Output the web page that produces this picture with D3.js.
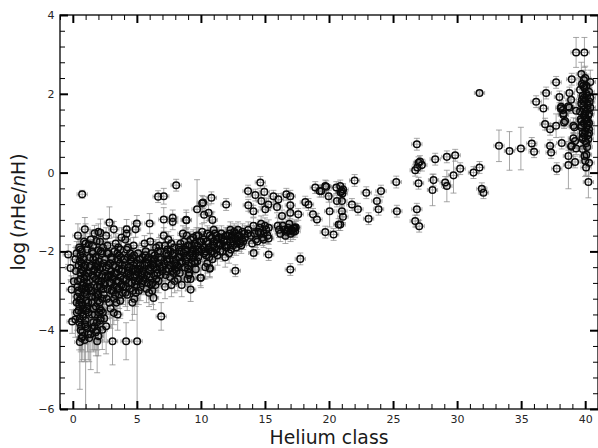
<!DOCTYPE html>
<html>
<head>
<meta charset="utf-8">
<script src="https://cdn.jsdelivr.net/npm/d3@7"></script>
<style>
  html, body { margin: 0; padding: 0; background: #fff; }
  svg { display: block; }
  text { font-family: "DejaVu Sans", sans-serif; }
</style>
</head>
<body>
<svg id="chart" width="598" height="448"></svg>
<script>
// Helium class of each star
const heClass = [
  0.73,-0.36,-0.18,0.08,-0.1,0.2,-0.05,0.68,0.55,1.0,
  1.9,2.3,3.1,4.16,5.02,3.2,6.9,6.3,0.94,1.25,
  1.7,2.0,1.85,2.86,3.2,4.2,5.0,6.0,6.66,7.1,
  8.07,7.1,7.8,7.8,8.85,9.7,10.1,10.6,10.25,10.9,
  10.7,10.0,9.2,7.2,9.2,8.5,4.9,4.2,3.8,2.16,
  2.0,0.2,1.4,2.6,3.5,1.6,0.3,1.8,2.45,2.0,
  0.4,0.5,0.6,0.7,0.8,0.9,1.0,1.1,1.2,0.45,
  0.55,0.65,0.75,0.85,0.95,1.05,1.15,0.5,0.7,0.9,
  1.1,0.6,0.8,1.0,1.2,0.4,0.6,0.8,1.0,0.7,
  1.4,1.5,1.6,1.7,1.8,1.9,2.0,2.1,2.2,2.3,
  2.4,1.5,1.7,1.9,2.1,2.3,1.6,1.8,2.0,2.2,
  1.45,1.75,1.95,2.15,2.35,
  2.6,2.7,2.8,2.9,3.0,3.1,3.2,3.3,3.4,3.5,
  3.6,3.7,3.8,3.9,2.65,2.95,3.25,3.55,3.85,3.0,
  3.4,3.7,2.8,3.15,3.6,
  4.1,4.2,4.3,4.4,4.5,4.6,4.7,4.8,4.9,5.0,
  5.1,5.2,5.3,5.4,4.25,4.55,4.85,5.15,4.35,4.75,
  5.05,4.15,4.65,5.25,
  5.6,5.7,5.8,5.9,6.0,6.1,6.2,6.3,6.4,6.5,
  6.6,6.7,6.8,6.9,5.75,6.05,6.35,6.65,5.65,6.25,
  6.85,5.95,6.55,
  7.1,7.2,7.3,7.4,7.5,7.6,7.7,7.8,7.9,8.0,
  8.1,8.2,8.3,8.4,7.25,7.55,7.85,8.15,7.45,7.95,
  8.35,
  8.6,8.7,8.8,8.9,9.0,9.1,9.2,9.3,9.4,9.5,
  9.6,9.7,9.8,9.9,8.75,9.05,9.35,9.65,8.95,9.55,
  10.1,10.2,10.3,10.4,10.5,10.6,10.7,10.8,10.9,11.0,
  11.1,11.2,11.3,11.4,10.35,10.65,10.95,11.25,
  11.6,11.8,12.0,12.2,12.4,12.6,12.8,13.0,13.2,13.4,
  11.7,12.1,12.5,12.9,13.3,11.9,12.3,12.7,
  13.7,13.9,14.1,14.3,14.5,14.7,14.9,15.1,14.0,14.4,
  14.8,15.3,16.1,16.4,16.7,16.9,17.1,17.3,16.6,17.0,
  14.64,13.68,10.82,11.97,10.17,8.87,14.25,14.95,14.72,15.66,
  16.05,16.67,16.98,15.26,13.7,14.1,15.03,15.94,16.33,16.98,
  16.98,17.6,18.15,18.4,18.75,19.06,18.93,19.27,19.71,19.97,
  20.57,20.05,19.71,20.36,20.75,17.24,17.4,17.1,17.35,16.77,
  15.29,14.64,14.12,15.29,17.76,16.98,12.69,10.69,9.96,20.88,
  21.01,21.1,20.9,21.05,19.79,19.4,20.62,21.01,21.79,22.26,
  21.01,21.09,20.88,22.0,22.91,24.06,23.74,23.87,23.09,25.25,
  25.3,26.86,26.73,27.04,26.99,26.86,26.99,27.25,26.73,26.89,
  27.1,28.29,29.2,29.85,29.72,30.24,31.28,31.75,31.93,32.06,
  28.16,28.08,29.07,29.2,31.75,33.27,34.09,34.98,35.83,36.01,
  39.29,39.94,37.73,36.95,36.17,36.74,37.99,38.95,38.12,38.3,
  38.69,39.29,36.87,37.26,37.73,38.35,39.08,37.26,37.34,38.17,
  38.95,39.21,39.29,38.69,39.21,38.69,37.78,40.25,39.94,40.07,
  38.1,38.25,38.77,38.9,38.77,38.43,38.3,39.16,39.08,38.9,
  39.7,39.9,40.1,40.3,39.8,40.0,40.2,40.4,39.6,39.9,
  40.1,40.3,39.7,40.0,40.2,39.8,40.1,40.4,39.6,39.9,
  40.2,40.0,39.7,40.3,39.8,40.1,39.9,40.2,40.0,39.7,
  40.3,39.8,40.1,40.0,39.9,40.2,
  0.3,0.45,0.6,0.75,0.9,1.05,1.2,1.35,0.35,0.5,0.65,0.8,0.95,1.1,1.25,
  0.4,0.55,0.7,0.85,1.0,1.15,1.3,0.62,0.88,
  1.42,1.55,1.68,1.82,1.96,2.08,2.22,2.38,2.52,1.48,1.62,1.78,1.92,2.05,2.18,
  2.32,2.48,1.58,1.88,2.12,2.42,2.28,
  2.62,2.75,2.88,3.02,3.15,3.28,3.42,3.55,3.68,3.82,3.95,2.72,2.98,3.22,3.48,
  3.75,3.92,2.85,3.35,3.62,
  4.05,4.22,4.38,4.52,4.68,4.82,4.98,5.12,5.28,5.45,4.12,4.45,4.78,5.08,5.38,
  4.3,4.92,5.5,
  5.62,5.78,5.92,6.08,6.22,6.38,6.52,6.68,6.82,6.98,5.85,6.15,6.45,6.75,6.02,6.6,
  7.15,7.3,7.45,7.6,7.75,7.9,8.05,8.2,8.35,8.5,7.38,7.68,7.98,8.28,8.45,
  8.65,8.82,8.98,9.12,9.28,9.42,9.58,9.72,9.88,8.9,9.2,9.5,9.8,9.0,
  10.05,10.25,10.45,10.62,10.85,11.05,11.22,11.45,11.62,11.85,10.5,11.0,11.5,11.95,
  12.05,12.25,12.45,12.65,12.85,13.05,13.25,13.45,13.65,12.35,12.75,13.15,
  14.2,14.6,15.0,15.2,16.2,16.5,16.8,17.2,14.9,16.0,
  39.75,39.95,40.15,40.35,39.85,40.05,40.25,39.65,39.9,40.1,
  40.3,39.8,40.0,40.2,39.7,40.4,39.95,40.15,39.85,40.05,
  40.25,39.75,40.0,40.3,
  0.25,0.38,0.52,0.66,0.78,0.92,1.08,1.22,1.36,1.52,
  1.66,1.8,1.94,2.1,2.26,0.32,0.58,0.82,1.12,1.44,
  1.72,2.02,2.34,0.48,0.72,0.98,1.28,1.58,1.88,2.18,
  2.55,2.78,3.05,3.32,3.58,3.88,4.18,4.48,4.72,4.95,
  5.22,5.48,5.75,2.68,2.92,3.18,3.45,3.72,4.02,4.32,
  4.62,4.88,5.18,5.42,5.68,5.9,
  6.12,6.42,6.72,7.02,7.32,7.62,7.92,8.22,8.52,8.82,
  9.12,9.42,9.72,10.02,10.32,10.62,10.92,11.22,11.52,11.82,
  12.12,12.42,12.72,13.02
];

// log(nHe/nH) of each star
const logHeH = [
  -0.55,-2.08,-2.42,-2.76,-2.97,-3.73,-3.78,-4.2,-4.3,-3.9,
  -4.28,-3.99,-4.28,-4.28,-4.28,-3.56,-3.65,-3.18,-1.44,-1.82,
  -1.54,-1.5,-1.74,-1.27,-1.44,-1.44,-1.29,-1.29,-0.61,-0.6,
  -0.32,-1.19,-1.15,-1.25,-1.2,-0.93,-0.78,-1.02,-1.07,-1.2,
  -2.42,-2.67,-2.97,-2.9,-2.7,-2.85,-1.44,-1.55,-1.65,-1.53,
  -1.97,-2.2,-4.1,-3.9,-3.6,-3.8,-3.3,-4.05,-3.7,-4.15,
  -1.6,-1.9,-2.1,-2.3,-2.5,-2.7,-2.9,-3.1,-3.3,-3.5,
  -3.7,-3.9,-4.05,-2.2,-2.6,-3.0,-3.4,-3.8,-2.0,-2.4,
  -2.8,-3.2,-3.6,-1.8,-4.1,-3.0,-2.7,-3.45,-3.75,-2.95,
  -1.7,-2.0,-2.2,-2.45,-2.7,-2.9,-3.1,-3.3,-3.5,-2.6,
  -2.3,-3.6,-3.9,-4.0,-2.85,-3.2,-2.5,-3.4,-2.75,-2.0,
  -3.0,-3.15,-2.35,-3.75,-1.9,
  -1.6,-1.85,-2.05,-2.3,-2.5,-2.7,-2.9,-3.1,-3.3,-2.2,
  -2.45,-2.65,-2.85,-3.05,-3.2,-3.45,-2.0,-1.9,-2.35,-2.8,
  -2.55,-3.25,-2.65,-3.0,-2.1,
  -1.7,-1.95,-2.15,-2.4,-2.6,-2.8,-3.0,-3.2,-2.5,-2.3,
  -2.05,-2.7,-2.9,-2.6,-3.1,-2.25,-2.75,-3.0,-2.55,-1.85,
  -2.45,-2.9,-3.3,-2.2,
  -1.8,-2.0,-2.2,-2.45,-2.65,-2.85,-3.0,-2.3,-2.1,-1.9,
  -2.55,-2.75,-2.4,-2.2,-2.95,-1.75,-2.6,-2.0,-2.7,-2.35,
  -2.6,-3.05,-2.45,
  -1.6,-1.85,-2.05,-2.25,-2.45,-2.65,-2.85,-2.1,-1.9,-2.3,
  -2.5,-2.7,-2.0,-1.8,-2.6,-2.2,-2.55,-2.35,-1.7,-2.75,
  -2.15,
  -1.55,-1.75,-1.95,-2.15,-2.35,-2.55,-2.05,-1.85,-1.65,-2.25,
  -2.45,-1.95,-2.15,-1.75,-2.4,-2.6,-2.0,-1.6,-2.7,-2.3,
  -1.5,-1.7,-1.9,-2.1,-2.3,-1.8,-1.6,-2.0,-2.2,-1.75,
  -1.55,-1.95,-2.1,-1.65,-2.4,-2.15,-1.85,-1.8,
  -1.55,-1.75,-1.9,-2.05,-1.65,-1.5,-1.8,-1.6,-1.7,-1.55,
  -2.0,-1.6,-1.85,-1.45,-1.75,-2.15,-1.45,-1.7,
  -1.45,-1.6,-1.35,-1.7,-1.5,-1.3,-1.55,-1.45,-1.8,-1.75,
  -1.65,-1.4,-1.45,-1.35,-1.5,-1.3,-1.45,-1.4,-1.6,-1.55,
  -0.25,-0.47,-0.64,-0.81,-0.76,-1.21,-0.57,-0.49,-0.72,-0.6,
  -0.68,-0.55,-0.6,-0.81,-0.83,-0.98,-0.93,-0.87,-1.1,-1.02,
  -0.83,-1.06,-0.75,-0.81,-1.06,-1.19,-0.38,-0.47,-0.34,-0.6,
  -0.38,-0.98,-1.51,-1.57,-1.32,-1.42,-1.39,-1.47,-1.49,-1.47,
  -1.67,-1.53,-2.04,-2.08,-2.19,-2.46,-2.49,-2.44,-2.67,-0.34,
  -0.47,-0.43,-0.5,-0.53,-0.36,-0.47,-0.72,-0.72,-0.81,-0.93,
  -0.98,-1.12,-1.32,-0.2,-0.51,-0.47,-0.72,-0.93,-1.17,-0.24,
  -0.98,-0.93,-1.23,-1.36,-0.27,0.72,0.25,0.19,0.06,0.13,
  0.28,0.34,0.4,0.44,-0.07,0.1,0.0,0.13,-0.41,-0.51,
  -0.19,-0.44,-0.25,-0.34,2.02,0.68,0.55,0.61,0.74,0.53,
  3.05,3.05,2.29,2.02,1.8,1.63,1.92,2.37,1.67,1.5,
  1.68,1.57,1.23,1.1,1.19,1.27,1.19,0.68,0.51,0.75,
  0.68,0.8,0.61,0.42,0.27,0.19,0.1,-0.24,0.42,0.13,
  1.63,1.59,2.02,1.85,1.65,1.31,1.46,1.15,0.87,0.66,
  2.5,2.35,2.2,2.05,1.95,1.85,1.75,1.65,1.55,1.45,
  1.35,1.25,1.15,1.05,0.95,0.85,0.75,2.3,2.1,1.9,
  1.7,1.5,1.3,1.1,0.9,2.0,1.8,1.6,1.4,1.2,
  1.0,0.6,0.45,2.4,1.6,1.2,
  -2.05,-2.35,-2.55,-2.85,-3.05,-3.25,-3.55,-2.15,-3.15,-3.35,-2.45,-3.65,-3.85,-2.65,-2.95,
  -2.75,-2.25,-3.3,-2.8,-3.5,-3.95,-2.4,-4.0,-1.75,
  -2.35,-2.6,-2.85,-3.05,-3.25,-2.45,-2.75,-2.95,-2.2,-3.3,-3.45,-2.15,-2.55,-3.55,-3.7,
  -2.4,-2.85,-1.85,-3.8,-1.75,-3.1,-2.05,
  -2.4,-2.6,-2.8,-3.0,-2.35,-2.55,-2.75,-2.95,-2.3,-2.5,-2.7,-2.95,-2.15,-3.2,-2.05,
  -2.15,-2.9,-3.3,-1.8,-3.1,
  -2.35,-2.6,-2.8,-2.2,-2.45,-2.65,-2.85,-2.55,-2.35,-2.15,-3.05,-2.95,-2.1,-2.75,-2.8,
  -1.9,-3.05,-2.5,
  -2.35,-2.6,-2.15,-2.4,-2.8,-2.2,-2.7,-2.3,-2.0,-2.5,-2.8,-2.05,-2.85,-1.85,-2.5,-2.55,
  -2.3,-2.5,-2.1,-2.35,-2.5,-2.05,-2.2,-2.4,-2.55,-2.0,-1.95,-1.8,-2.45,-1.9,-2.3,
  -2.05,-2.25,-1.85,-2.1,-2.3,-1.95,-2.05,-2.25,-2.0,-1.6,-1.7,-1.8,-1.6,-2.45,
  -1.95,-2.05,-1.75,-1.95,-1.65,-2.05,-1.7,-1.85,-1.65,-1.85,-1.55,-1.45,-2.0,-1.6,
  -1.75,-1.55,-1.75,-1.65,-1.6,-1.75,-1.5,-1.65,-1.55,-1.95,-1.9,-1.85,
  -1.55,-1.4,-1.35,-1.6,-1.55,-1.45,-1.4,-1.5,-1.7,-1.35,
  2.25,2.15,1.95,1.8,1.7,1.55,1.45,1.35,1.25,1.15,
  1.5,1.0,0.8,1.3,1.75,1.9,0.95,0.65,2.2,1.35,
  0.85,1.85,0.3,0.25,
  -2.5,-2.9,-3.25,-3.55,-4.15,-4.25,-3.45,-2.55,-2.9,-3.95,
  -2.65,-2.3,-3.1,-3.45,-2.65,-3.55,-1.95,-2.15,-1.95,-3.15,
  -3.6,-2.25,-3.55,-3.05,-3.35,-2.35,-4.2,-2.05,-2.4,-2.9,
  -2.65,-2.35,-2.2,-2.4,-2.75,-2.45,-2.7,-2.05,-2.35,-2.6,
  -2.45,-2.75,-2.3,-2.05,-2.6,-2.65,-2.9,-1.95,-2.2,-2.5,
  -2.15,-2.45,-2.2,-2.55,-2.1,-2.3,
  -2.2,-2.4,-2.15,-2.4,-2.2,-2.0,-2.35,-2.15,-2.25,-2.0,
  -1.85,-2.15,-1.85,-1.75,-2.0,-1.9,-2.0,-1.6,-1.8,-1.7,
  -1.85,-1.6,-1.55,-1.8
];

// 1-sigma uncertainty of log(nHe/nH)
const logErr = [
  0.1,0.25,0.3,0.3,0.35,0.45,0.3,0.6,1.2,2.6,
  0.8,0.5,0.6,0.47,2.3,0.3,0.35,0.3,0.3,0.2,
  0.2,0.2,0.2,0.4,0.2,0.25,0.2,0.25,0.15,0.2,
  0.15,0.3,0.2,0.2,0.25,0.75,0.2,0.2,0.2,0.2,
  0.25,0.25,0.3,0.3,0.25,0.3,0.2,0.2,0.25,0.35,
  0.3,0.3,0.9,0.7,0.4,0.75,0.4,0.6,0.6,0.5,
  0.3,0.25,0.35,0.2,0.4,0.3,0.5,0.35,0.45,0.4,
  0.5,0.6,0.45,0.25,0.3,0.55,0.35,0.7,0.2,0.3,
  0.4,0.35,0.5,0.25,0.65,0.3,0.25,0.45,0.6,0.35,
  0.25,0.3,0.2,0.35,0.3,0.4,0.35,0.45,0.5,0.3,
  0.25,0.55,0.6,0.5,0.3,0.4,0.25,0.45,0.3,0.2,
  0.35,0.4,0.25,0.5,0.2,
  0.2,0.25,0.3,0.25,0.3,0.35,0.3,0.4,0.45,0.2,
  0.25,0.3,0.35,0.3,0.4,0.5,0.2,0.25,0.3,0.35,
  0.3,0.45,0.3,0.35,0.2,
  0.2,0.25,0.2,0.3,0.25,0.3,0.35,0.4,0.25,0.2,
  0.2,0.3,0.35,0.25,0.4,0.2,0.3,0.35,0.25,0.2,
  0.25,0.3,0.45,0.2,
  0.2,0.2,0.25,0.25,0.3,0.3,0.35,0.2,0.2,0.2,
  0.25,0.3,0.25,0.2,0.35,0.2,0.25,0.2,0.3,0.25,
  0.25,0.35,0.25,
  0.2,0.2,0.25,0.2,0.25,0.3,0.3,0.2,0.2,0.25,
  0.25,0.3,0.2,0.2,0.3,0.2,0.25,0.25,0.2,0.3,
  0.2,
  0.2,0.2,0.2,0.25,0.25,0.3,0.2,0.2,0.2,0.25,
  0.25,0.2,0.2,0.2,0.25,0.3,0.2,0.2,0.3,0.25,
  0.2,0.2,0.2,0.25,0.25,0.2,0.2,0.2,0.25,0.2,
  0.2,0.2,0.25,0.2,0.3,0.25,0.2,0.2,
  0.2,0.2,0.2,0.25,0.2,0.2,0.2,0.2,0.2,0.2,
  0.25,0.2,0.2,0.2,0.2,0.25,0.2,0.2,
  0.2,0.2,0.2,0.2,0.2,0.2,0.2,0.2,0.2,0.2,
  0.2,0.2,0.2,0.2,0.2,0.2,0.2,0.2,0.2,0.2,
  0.15,0.15,0.15,0.15,0.15,0.2,0.15,0.15,0.15,0.15,
  0.15,0.15,0.15,0.15,0.15,0.15,0.15,0.15,0.15,0.15,
  0.15,0.15,0.15,0.15,0.15,0.15,0.15,0.15,0.15,0.15,
  0.15,0.4,0.15,0.15,0.15,0.15,0.15,0.15,0.15,0.15,
  0.15,0.15,0.15,0.15,0.15,0.15,0.15,0.2,0.2,0.15,
  0.15,0.15,0.15,0.15,0.15,0.15,0.15,0.15,0.15,0.15,
  0.15,0.15,0.15,0.15,0.15,0.15,0.15,0.15,0.15,0.15,
  0.15,0.15,0.15,0.15,0.15,0.15,0.15,0.15,0.15,0.15,
  0.15,0.15,0.15,0.15,0.45,0.15,0.15,0.15,0.15,0.15,
  0.15,0.4,0.15,0.4,0.05,0.4,0.49,0.54,0.15,0.15,
  0.38,0.38,0.15,0.15,0.15,0.4,0.15,0.15,0.15,0.2,
  0.15,0.2,0.15,0.15,0.3,0.15,0.2,0.15,0.15,0.15,
  0.15,0.15,0.15,0.15,0.15,0.6,0.15,0.4,0.2,0.2,
  0.15,0.15,0.15,0.15,0.15,0.15,0.15,0.15,0.15,0.15,
  0.3,0.25,0.3,0.35,0.25,0.3,0.3,0.35,0.25,0.3,
  0.3,0.35,0.25,0.3,0.35,0.25,0.3,0.3,0.3,0.25,
  0.3,0.35,0.25,0.3,0.3,0.25,0.3,0.3,0.35,0.25,
  0.3,0.35,0.4,0.3,0.25,0.3,
  0.3,0.35,0.3,0.4,0.35,0.45,0.5,0.3,0.4,0.45,0.3,0.55,0.5,0.35,0.4,
  0.35,0.3,0.45,0.35,0.5,0.6,0.3,0.55,0.25,
  0.3,0.35,0.35,0.4,0.45,0.3,0.35,0.4,0.3,0.45,0.5,0.25,0.35,0.5,0.55,
  0.3,0.35,0.25,0.55,0.25,0.4,0.3,
  0.25,0.3,0.3,0.35,0.25,0.3,0.3,0.35,0.25,0.25,0.3,0.35,0.25,0.4,0.25,
  0.25,0.3,0.4,0.25,0.35,
  0.25,0.3,0.3,0.25,0.25,0.3,0.3,0.3,0.25,0.25,0.35,0.3,0.2,0.3,0.3,
  0.2,0.35,0.25,
  0.25,0.3,0.2,0.25,0.3,0.2,0.3,0.25,0.2,0.25,0.3,0.2,0.3,0.2,0.25,0.25,
  0.25,0.25,0.2,0.25,0.25,0.2,0.2,0.25,0.25,0.2,0.2,0.2,0.25,0.2,0.25,
  0.2,0.2,0.2,0.2,0.25,0.2,0.2,0.25,0.2,0.2,0.2,0.2,0.2,0.25,
  0.2,0.2,0.2,0.2,0.2,0.2,0.2,0.2,0.2,0.2,0.2,0.2,0.2,0.2,
  0.2,0.2,0.2,0.2,0.2,0.2,0.2,0.2,0.2,0.2,0.2,0.2,
  0.2,0.2,0.2,0.2,0.2,0.2,0.2,0.2,0.2,0.2,
  0.3,0.3,0.3,0.35,0.3,0.3,0.35,0.25,0.3,0.3,
  0.35,0.3,0.35,0.3,0.25,0.35,0.3,0.35,0.3,0.3,
  0.35,0.3,0.4,0.35,
  0.3,0.35,0.4,0.45,0.6,0.55,0.45,0.3,0.35,0.55,
  0.3,0.3,0.4,0.45,0.3,0.45,0.25,0.3,0.25,0.4,
  0.45,0.3,0.45,0.4,0.4,0.3,0.6,0.25,0.3,0.35,
  0.3,0.25,0.25,0.3,0.3,0.3,0.3,0.25,0.25,0.3,
  0.25,0.3,0.25,0.25,0.3,0.3,0.35,0.25,0.25,0.3,
  0.25,0.25,0.25,0.3,0.25,0.25,
  0.25,0.25,0.25,0.25,0.2,0.2,0.25,0.2,0.25,0.2,
  0.2,0.2,0.2,0.2,0.2,0.2,0.2,0.2,0.2,0.2,
  0.2,0.2,0.2,0.2
];

// uncertainty of the helium class (same for all stars)
const classErr = 0.4;

// axis settings
const classDomain = [-1, 41];
const logDomain = [-6, 4];
const classTicks = [0, 5, 10, 15, 20, 25, 30, 35, 40];
const logTicks = [-6, -4, -2, 0, 2, 4];
const classMinorStep = 1;
const logMinorStep = 0.4;

const xLabel = "Helium class";

const svg = d3.select("#chart");
const plotL = 60, plotR = 598, plotT = 15, plotB = 409;

const x = d3.scaleLinear().domain(classDomain).range([plotL, plotR]);
const y = d3.scaleLinear().domain(logDomain).range([plotB, plotT]);

const stars = heClass.map((c, i) => ({
  c, v: logHeH[i], e: logErr[i] !== undefined ? logErr[i] : 0.2
}));

// plotting area clip
svg.append("defs").append("clipPath").attr("id", "plotclip")
  .append("rect").attr("x", plotL).attr("y", plotT)
  .attr("width", plotR - plotL).attr("height", plotB - plotT);

const plot = svg.append("g").attr("clip-path", "url(#plotclip)");

// error bars
const eb = plot.append("g")
  .attr("stroke", "#8a8a8a")
  .attr("stroke-opacity", 0.75)
  .attr("stroke-width", 1)
  .attr("fill", "none");

const capY = 3, capX = 2;
eb.selectAll("path.ey").data(stars).join("path").attr("class", "ey")
  .attr("d", d => {
    const cx = x(d.c), y0 = y(d.v - d.e), y1 = y(d.v + d.e);
    return `M${cx},${y0}V${y1}M${cx - capY},${y0}H${cx + capY}M${cx - capY},${y1}H${cx + capY}`;
  });
eb.selectAll("path.ex").data(stars).join("path").attr("class", "ex")
  .attr("d", d => {
    const cy = y(d.v), x0 = x(d.c - classErr), x1 = x(d.c + classErr);
    return `M${x0},${cy}H${x1}M${x0},${cy - capX}V${cy + capX}M${x1},${cy - capX}V${cy + capX}`;
  });

// markers
plot.append("g")
  .attr("fill", "none")
  .attr("stroke", "#0a0a0a")
  .attr("stroke-width", 1.5)
  .selectAll("circle").data(stars).join("circle")
  .attr("cx", d => x(d.c))
  .attr("cy", d => y(d.v))
  .attr("r", 3.3);

// helper for minor tick values
function minorValues(domain, step, majors) {
  const out = [];
  const n0 = Math.ceil(domain[0] / step - 1e-9), n1 = Math.floor(domain[1] / step + 1e-9);
  for (let k = n0; k <= n1; k++) {
    const v = +(k * step).toFixed(6);
    if (!majors.some(m => Math.abs(m - v) < 1e-6)) out.push(v);
  }
  return out;
}
const classMinor = minorValues(classDomain, classMinorStep, classTicks);
const logMinor = minorValues(logDomain, logMinorStep, logTicks);

function styleAxis(g, width) {
  g.select(".domain").remove();
  g.selectAll(".tick line").attr("stroke", "#000").attr("stroke-width", width);
  g.selectAll(".tick text")
    .attr("fill", "#262626")
    .style("font-family", "'DejaVu Sans', sans-serif")
    .style("font-size", "11px");
}

// bottom
svg.append("g").attr("transform", `translate(0,${plotB})`)
  .call(d3.axisBottom(x).tickValues(classTicks).tickSize(-8).tickPadding(6.5))
  .call(g => styleAxis(g, 2));
svg.append("g").attr("transform", `translate(0,${plotB})`)
  .call(d3.axisBottom(x).tickValues(classMinor).tickSize(-5).tickFormat(""))
  .call(g => styleAxis(g, 1));
// top
svg.append("g").attr("transform", `translate(0,${plotT})`)
  .call(d3.axisTop(x).tickValues(classTicks).tickSize(-8).tickFormat(""))
  .call(g => styleAxis(g, 2));
svg.append("g").attr("transform", `translate(0,${plotT})`)
  .call(d3.axisTop(x).tickValues(classMinor).tickSize(-5).tickFormat(""))
  .call(g => styleAxis(g, 1));
// left
svg.append("g").attr("transform", `translate(${plotL},0)`)
  .call(d3.axisLeft(y).tickValues(logTicks).tickSize(-8).tickPadding(5.5))
  .call(g => styleAxis(g, 2));
svg.append("g").attr("transform", `translate(${plotL},0)`)
  .call(d3.axisLeft(y).tickValues(logMinor).tickSize(-5).tickFormat(""))
  .call(g => styleAxis(g, 1));
// right
svg.append("g").attr("transform", `translate(${plotR},0)`)
  .call(d3.axisRight(y).tickValues(logTicks).tickSize(-8).tickFormat(""))
  .call(g => styleAxis(g, 2));
svg.append("g").attr("transform", `translate(${plotR},0)`)
  .call(d3.axisRight(y).tickValues(logMinor).tickSize(-5).tickFormat(""))
  .call(g => styleAxis(g, 1));

// frame
svg.append("rect")
  .attr("x", plotL).attr("y", plotT)
  .attr("width", plotR - plotL).attr("height", plotB - plotT)
  .attr("fill", "none").attr("stroke", "#000").attr("stroke-width", 1.3);

// axis titles
svg.append("text")
  .attr("x", (plotL + plotR) / 2).attr("y", 443.5)
  .attr("text-anchor", "middle")
  .attr("fill", "#1a1a1a")
  .style("font-size", "18.8px")
  .text(xLabel);

const yl = svg.append("text")
  .attr("transform", `translate(25,${(plotT + plotB) / 2}) rotate(-90)`)
  .attr("text-anchor", "middle")
  .attr("fill", "#1a1a1a")
  .style("font-size", "18.8px");
yl.append("tspan").text("log\u2009(");
yl.append("tspan").style("font-style", "italic").text("n");
yl.append("tspan").text("He/");
yl.append("tspan").style("font-style", "italic").text("n");
yl.append("tspan").text("H)");
</script>
</body>
</html>
